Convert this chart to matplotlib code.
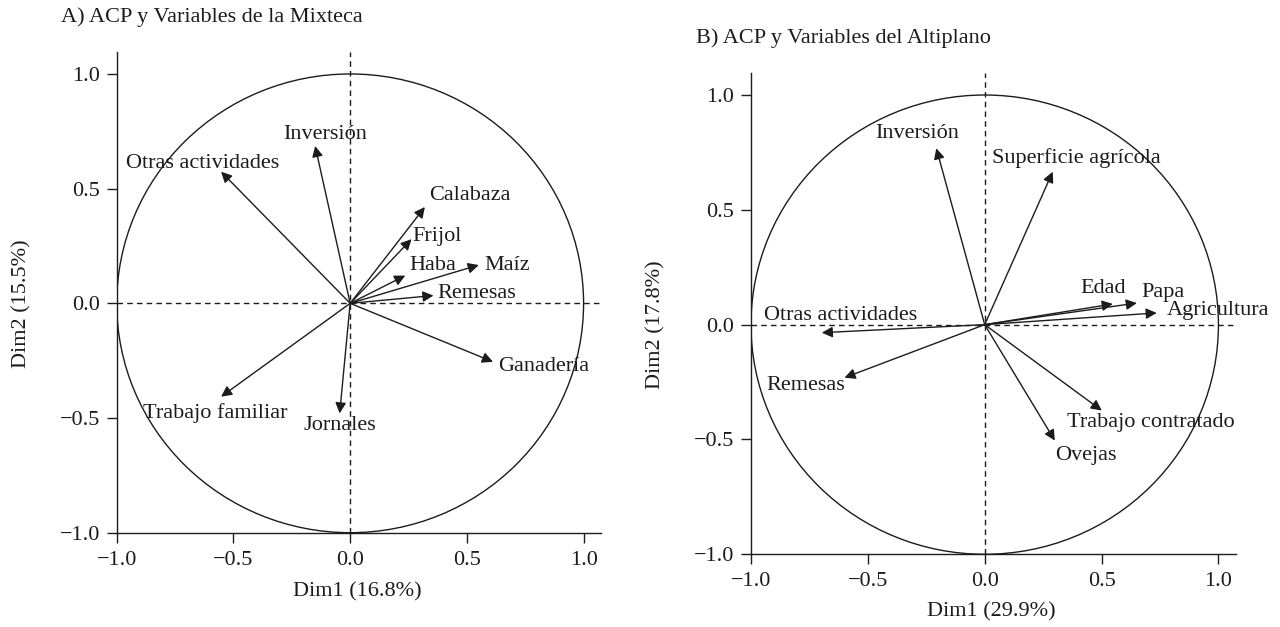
import numpy as np
import matplotlib.pyplot as plt
from matplotlib.patches import Circle

plt.rcParams['font.family'] = ['Liberation Serif', 'DejaVu Serif']
plt.rcParams['font.size'] = 16

# Panel A - Mixteca: variable coordinates (Dim1, Dim2)
mix_vars = ["Inversión", "Otras actividades", "Calabaza", "Frijol", "Haba",
            "Maíz", "Remesas", "Ganadería", "Trabajo familiar", "Jornales"]
mix_dim1 = [-0.150, -0.553, 0.320, 0.263, 0.236, 0.551, 0.357, 0.612, -0.553, -0.045]
mix_dim2 = [0.686, 0.574, 0.420, 0.280, 0.121, 0.167, 0.034, -0.255, -0.407, -0.480]
# where the text of each label sits
mix_lab_x = [-0.106, -0.632, 0.512, 0.372, 0.355, 0.674, 0.542, 0.831, -0.580, -0.045]
mix_lab_y = [0.737, 0.611, 0.468, 0.293, 0.163, 0.167, 0.041, -0.276, -0.477, -0.531]

# Panel B - Altiplano
alt_vars = ["Inversión", "Superficie agrícola", "Edad", "Papa", "Agricultura",
            "Otras actividades", "Remesas", "Trabajo contratado", "Ovejas"]
alt_dim1 = [-0.207, 0.291, 0.548, 0.651, 0.736, -0.697, -0.600, 0.501, 0.300]
alt_dim2 = [0.768, 0.666, 0.090, 0.094, 0.051, -0.035, -0.231, -0.374, -0.505]
alt_lab_x = [-0.289, 0.392, 0.506, 0.762, 0.997, -0.618, -0.767, 0.709, 0.431]
alt_lab_y = [0.833, 0.727, 0.157, 0.142, 0.062, 0.041, -0.265, -0.425, -0.570]

ticks = [-1.0, -0.5, 0.0, 0.5, 1.0]
ink = '#1c1c1c'


def pca_panel(ax, names, d1, d2, lx, ly, xlab, ylab, xlab_y):
    ax.set_xlim(-1.0, 1.075)
    ax.set_ylim(-1.0, 1.097)
    ax.add_patch(Circle((0, 0), 1.0, fill=False, color=ink, lw=1.0))
    ax.axhline(0, color=ink, lw=1.0, ls=(0, (4, 3)))
    ax.axvline(0, color=ink, lw=1.0, ls=(0, (4, 3)))
    for name, x, y, tx, ty in zip(names, d1, d2, lx, ly):
        ax.annotate('', xy=(x, y), xytext=(0, 0),
                    arrowprops=dict(arrowstyle='-|>', color=ink, lw=1.0,
                                    mutation_scale=16, shrinkA=0, shrinkB=0))
        ax.text(tx, ty, name, ha='center', va='center', color=ink)
    ax.set_xticks(ticks)
    ax.set_yticks(ticks)
    ax.set_xticklabels([f"{t:.1f}".replace('-', '\u2212') for t in ticks])
    ax.set_yticklabels([f"{t:.1f}".replace('-', '\u2212') for t in ticks])
    ax.tick_params(length=7, width=1.0, color=ink, labelcolor=ink)
    ax.tick_params(axis='x', pad=6)
    ax.tick_params(axis='y', pad=5)
    for s in ['top', 'right']:
        ax.spines[s].set_visible(False)
    for s in ['left', 'bottom']:
        ax.spines[s].set_color(ink)
        ax.spines[s].set_linewidth(1.0)
    ax.set_xlabel(xlab, color=ink, va='center')
    ax.set_ylabel(ylab, color=ink, va='center')
    ax.xaxis.set_label_coords(0.496, xlab_y)
    ax.yaxis.set_label_coords(-0.196, 0.477)


fig = plt.figure(figsize=(12.8, 6.27), dpi=100)
ax1 = fig.add_axes([0.0912, 0.1504, 0.3784, 0.7671])
ax2 = fig.add_axes([0.5867, 0.1160, 0.3789, 0.7680])

pca_panel(ax1, mix_vars, mix_dim1, mix_dim2, mix_lab_x, mix_lab_y,
          "Dim1 (16.8%)", "Dim2 (15.5%)", -0.1227)
pca_panel(ax2, alt_vars, alt_dim1, alt_dim2, alt_lab_x, alt_lab_y,
          "Dim1 (29.9%)", "Dim2 (17.8%)", -0.119)

fig.text(0.0473, 0.9734, "A) ACP y Variables de la Mixteca", ha='left', va='center', color=ink)
fig.text(0.5438, 0.9399, "B) ACP y Variables del Altiplano", ha='left', va='center', color=ink)

fig.savefig('out.png', dpi=100)
